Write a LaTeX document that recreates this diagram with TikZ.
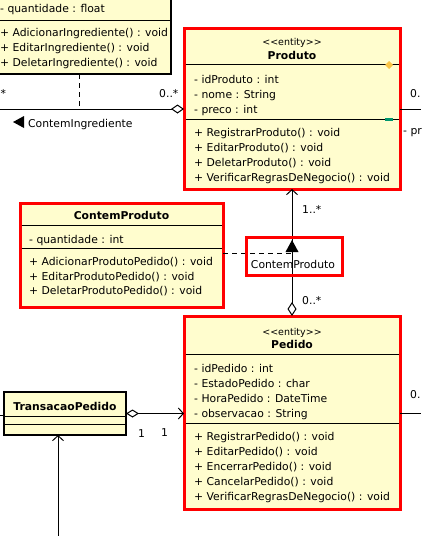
\documentclass[tikz,border=0pt]{standalone}
\usepackage{fontspec}
\setmainfont{DejaVu Sans}
\usetikzlibrary{arrows.meta}
\definecolor{umlfill}{RGB}{255,253,206}
\definecolor{umlred}{RGB}{255,0,0}
\definecolor{markorange}{RGB}{250,196,70}
\definecolor{markgreen}{RGB}{0,150,110}
\begin{document}
\begin{tikzpicture}[x=1pt,y=-1pt,
  txt/.style={anchor=base west, inner sep=0pt, font=\fontsize{10.8}{13}\selectfont},
  ttl/.style={anchor=base, inner sep=0pt, font=\fontsize{10.8}{13}\selectfont\bfseries},
  stereo/.style={anchor=base, inner sep=0pt, font=\fontsize{9.5}{11}\selectfont},
  redbox/.style={draw=umlred, line width=3pt, fill=umlfill, inner sep=0pt, outer sep=0pt, anchor=north west},
  redframe/.style={draw=umlred, line width=3pt, inner sep=0pt, outer sep=0pt, anchor=north west},
  blackbox/.style={draw=black, line width=2.5pt, fill=umlfill, inner sep=0pt, outer sep=0pt, anchor=north west},
  sepline/.style={draw=black, line width=1pt},
  conn/.style={draw=black, line width=1pt},
  dashconn/.style={draw=black, line width=1pt, dash pattern=on 5pt off 4pt}
]
\useasboundingbox (0,0) rectangle (421,536);
\clip (0,0) rectangle (421,536);

% ---- top-left partial class ----
\node[blackbox, minimum width=191pt, minimum height=94pt] (ingred) at (-20,-20) {};
\draw[sepline] ([xshift=1.25pt]ingred.west |- 0,20) -- ([xshift=-1.25pt]ingred.east |- 0,20);
\node[txt] (i1) at (0,12) {- quantidade : float};
\node[txt] (i2) at (0,36) {+ AdicionarIngrediente() : void};
\node[txt] (i3) at (0,51) {+ EditarIngrediente() : void};
\node[txt] (i4) at (0,66) {+ DeletarIngrediente() : void};

% ---- Produto ----
\node[redbox, minimum width=216pt, minimum height=161pt] (produto) at (184,28) {};
\draw[sepline] ([xshift=1.5pt]produto.west |- 0,64) -- ([xshift=-1.5pt]produto.east |- 0,64);
\draw[sepline] ([xshift=1.5pt]produto.west |- 0,119) -- ([xshift=-1.5pt]produto.east |- 0,119);
\node[stereo] (pst) at (292,45) {<\kern0pt<entity>\kern0pt>};
\node[ttl] (pti) at (292,59) {Produto};
\node[txt] (pa1) at (194,83) {- idProduto : int};
\node[txt] (pa2) at (194,98) {- nome : String};
\node[txt] (pa3) at (194,113) {- preco : int};
\node[txt] (pm1) at (194,136) {+ RegistrarProduto() : void};
\node[txt] (pm2) at (194,151) {+ EditarProduto() : void};
\node[txt] (pm3) at (194,166) {+ DeletarProduto() : void};
\node[txt] (pm4) at (194,181) {+ VerificarRegrasDeNegocio() : void};
\fill[markorange] (389,61) -- (393,65) -- (389,69) -- (385,65) -- cycle;
\fill[markgreen] (385,117.5) rectangle (393,120.5);

% ---- ContemProduto class ----
\node[redbox, minimum width=203pt, minimum height=104pt] (cpclass) at (20,203) {};
\draw[sepline] ([xshift=1.5pt]cpclass.west |- 0,225) -- ([xshift=-1.5pt]cpclass.east |- 0,225);
\draw[sepline] ([xshift=1.5pt]cpclass.west |- 0,248) -- ([xshift=-1.5pt]cpclass.east |- 0,248);
\node[ttl] (cti) at (121.5,219) {ContemProduto};
\node[txt] (ca1) at (29,243) {- quantidade : int};
\node[txt] (cm1) at (29,265) {+ AdicionarProdutoPedido() : void};
\node[txt] (cm2) at (29,280) {+ EditarProdutoPedido() : void};
\node[txt] (cm3) at (29,294) {+ DeletarProdutoPedido() : void};

% ---- Pedido ----
\node[redbox, minimum width=216pt, minimum height=193pt] (pedido) at (184,316) {};
\draw[sepline] ([xshift=1.5pt]pedido.west |- 0,354) -- ([xshift=-1.5pt]pedido.east |- 0,354);
\draw[sepline] ([xshift=1.5pt]pedido.west |- 0,423) -- ([xshift=-1.5pt]pedido.east |- 0,423);
\node[stereo] (est) at (292,335) {<\kern0pt<entity>\kern0pt>};
\node[ttl] (eti) at (292,348) {Pedido};
\node[txt] (ea1) at (194,372) {- idPedido : int};
\node[txt] (ea2) at (194,387) {- EstadoPedido : char};
\node[txt] (ea3) at (194,402) {- HoraPedido : DateTime};
\node[txt] (ea4) at (194,417) {- observacao : String};
\node[txt] (em1) at (194,440) {+ RegistrarPedido() : void};
\node[txt] (em2) at (194,455) {+ EditarPedido() : void};
\node[txt] (em3) at (194,470) {+ EncerrarPedido() : void};
\node[txt] (em4) at (194,485) {+ CancelarPedido() : void};
\node[txt] (em5) at (194,500) {+ VerificarRegrasDeNegocio() : void};

% ---- TransacaoPedido ----
\node[blackbox, minimum width=122pt, minimum height=43pt] (transacao) at (4,392) {};
\draw[sepline] ([xshift=1.25pt]transacao.west |- 0,416) -- ([xshift=-1.25pt]transacao.east |- 0,416);
\draw[sepline] ([xshift=1.25pt]transacao.west |- 0,424) -- ([xshift=-1.25pt]transacao.east |- 0,424);
\node[ttl] (tti) at (65,410) {TransacaoPedido};

% ---- ContemIngrediente association ----
\coordinate (ciL) at (0,109);
\coordinate (ciMid) at (79,109);
\draw[conn, -{Diamond[open, fill=white, length=13pt, width=9pt]}] (ciL) -- (ciL -| produto.west);
\draw[dashconn] (ingred.south -| ciMid) -- (ciMid);
\node[txt] (ciStar) at (0.5,97) {*};
\node[txt] (ciMult) at (159,97) {0..*};
\fill (13,122) -- (24,116) -- (24,128) -- cycle;
\node[txt] (ciName) at (28,127) {ContemIngrediente};

% ---- Produto right side ----
\coordinate (prR) at (421,109);
\draw[conn] (produto.east |- prR) -- (prR);
\node[txt] (prM) at (410,97) {0.};
\node[txt] (prP) at (403,134) {- pr};

% ---- Produto / Pedido association ----
\draw[conn, {Straight Barb[length=5pt, width=11pt]}-{Diamond[open, fill=white, length=14pt, width=9pt]}] (produto.south) -- (pedido.north);
\node[txt] (m1) at (302,213) {1..*};
\node[txt] (m2) at (302,304) {0..*};
\coordinate (assocMid) at (292,253);
\draw[dashconn] (cpclass.east |- assocMid) -- (assocMid);
\node[redframe, minimum width=96pt, minimum height=38pt] (cplabel) at (246,237) {};
\fill (292,240) -- (298.5,252) -- (285.5,252) -- cycle;
\node[anchor=base, inner sep=0pt, font=\fontsize{10.8}{13}\selectfont] (cpname) at (293,268) {ContemProduto};

% ---- Pedido right side ----
\coordinate (peR) at (421,413);
\draw[conn] (pedido.east |- peR) -- (peR);
\node[txt] (peM) at (410,398) {0.};

% ---- TransacaoPedido connectors ----
\coordinate (tL) at (0,415);
\draw[conn] (tL) -- (tL -| transacao.west);
\draw[conn, {Diamond[open, fill=white, length=13pt, width=8pt]}-{Straight Barb[length=5pt, width=11pt]}] (transacao.east) -- (transacao.east -| pedido.west);
\node[txt] (t1) at (138,437) {1};
\node[txt] (t2) at (161,436) {1};
\coordinate (vB) at (58,536);
\draw[conn, -{Straight Barb[length=5pt, width=11pt]}] (vB) -- (vB |- transacao.south);
\end{tikzpicture}
\end{document}
